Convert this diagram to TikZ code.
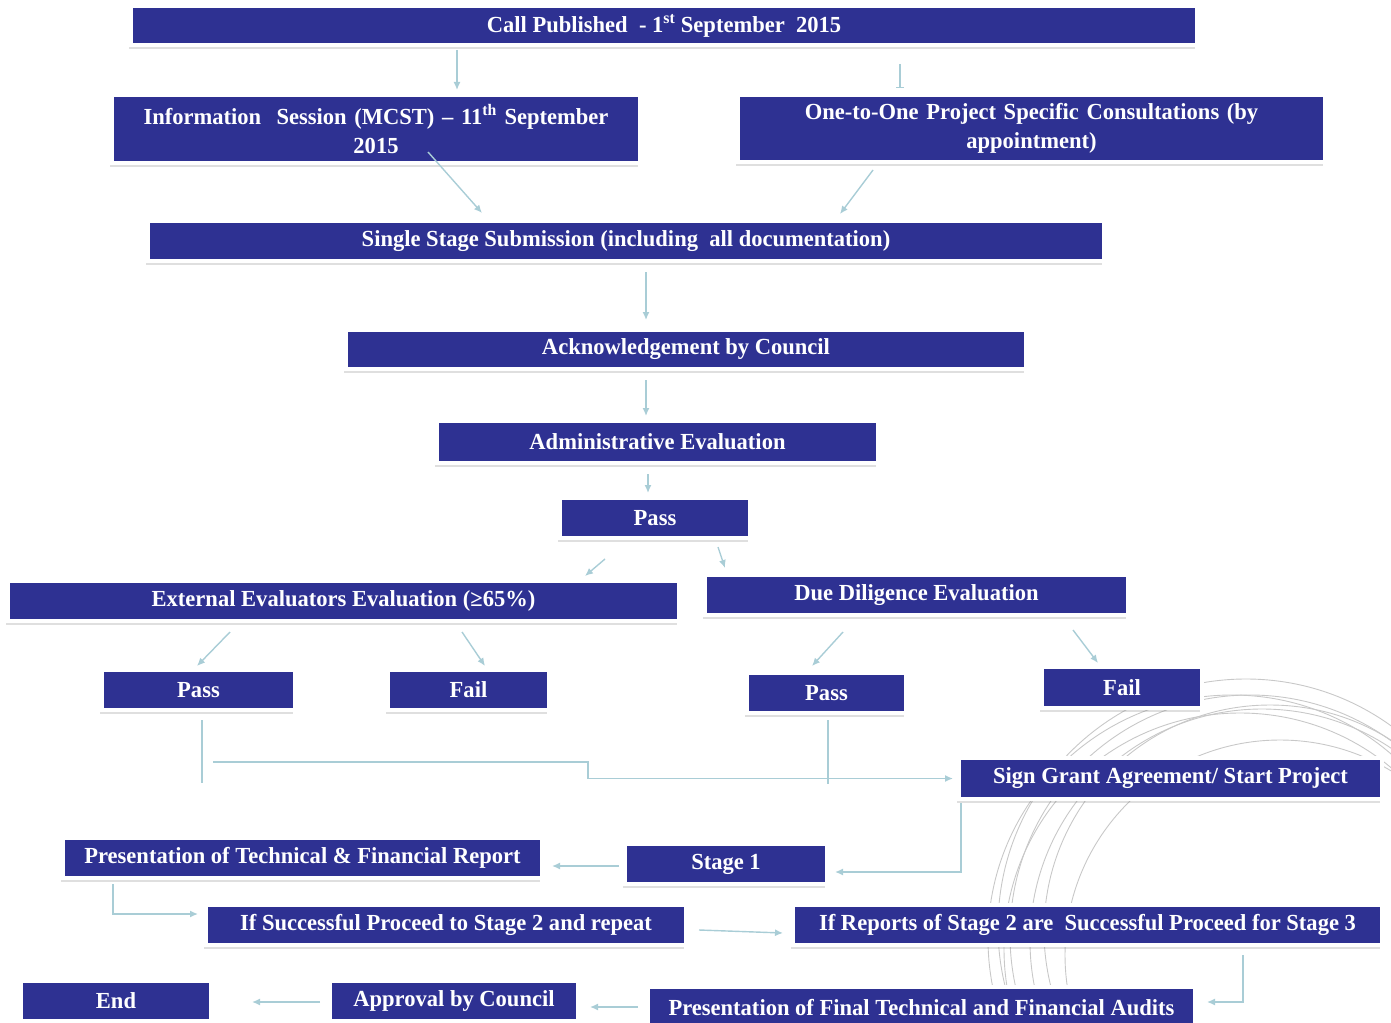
\documentclass[tikz,border=0pt]{standalone}
\usepackage{fontspec}
\setmainfont{Liberation Serif}[FakeStretch=0.98]
\usetikzlibrary{calc, arrows.meta, shadows}

\definecolor{boxblue}{HTML}{2E3192}
\definecolor{arrowc}{HTML}{A9CDD6}
\definecolor{ringc}{HTML}{C8C8C8}

\tikzset{
  flowbox/.style={draw=white, line width=4pt, fill=boxblue, text=white,
    font=\fontsize{23}{29}\selectfont\bfseries, inner sep=0pt, align=center,
    drop shadow={shadow xshift=-2pt, shadow yshift=-4pt, opacity=0.25}},
  arr/.style={draw=arrowc, line width=1.4pt, -{Latex[length=8pt,width=7pt]}},
  plain/.style={draw=arrowc, line width=1.4pt}
}

\begin{document}
\begin{tikzpicture}[x=1pt, y=-1pt]
  \useasboundingbox (0,0) rectangle (1391,1022);

  % Anillos de fondo
  \begin{scope}
    \clip (0,0) rectangle (1391,1022);
    \foreach \dx/\dy/\r in {0/0/240, 12/6/232, -10/14/236, 20/-4/226, -4/-8/248, 30/20/215, -18/4/244}
      \draw[ringc, line width=0.9pt] (1250+\dx,935+\dy) circle (\r);
  \end{scope}

  % Cajas
  \node[flowbox, minimum width=1066, minimum height=39] (call) at (664,25.5)
    {Call Published \ - 1\textsuperscript{st} September \ 2015};
  \node[flowbox, minimum width=528, minimum height=68, text width=500] (info) at (376,129)
    {Information \ Session (MCST) -- 11\textsuperscript{th} September\\2015};
  \node[flowbox, minimum width=587, minimum height=67, text width=560] (one) at (1031.5,128.5)
    {One-to-One Project Specific Consultations (by\\appointment)};
  \node[flowbox, minimum width=956, minimum height=40] (single) at (626,241)
    {Single Stage Submission (including \ all documentation)};
  \node[flowbox, minimum width=680, minimum height=39] (ack) at (686,349.5)
    {Acknowledgement by Council};
  \node[flowbox, minimum width=441, minimum height=42] (admin) at (657.5,442)
    {Administrative Evaluation};
  \node[flowbox, minimum width=190, minimum height=40] (pass) at (655,518) {Pass};
  \node[flowbox, minimum width=671, minimum height=40] (ext) at (343.5,601)
    {External Evaluators Evaluation (≥65\%)};
  \node[flowbox, minimum width=423, minimum height=40] (due) at (916.5,595)
    {Due Diligence Evaluation};
  \node[flowbox, minimum width=193, minimum height=40] (passa) at (198.5,690) {Pass};
  \node[flowbox, minimum width=161, minimum height=40] (faila) at (468.5,690) {Fail};
  \node[flowbox, minimum width=159, minimum height=40] (passb) at (826.5,693) {Pass};
  \node[flowbox, minimum width=160, minimum height=41] (failb) at (1122,687.5) {Fail};
  \node[flowbox, minimum width=423, minimum height=41] (sign) at (1170.5,778.5)
    {Sign Grant Agreement/ Start Project};
  \node[flowbox, minimum width=479, minimum height=40] (pres) at (302.5,858)
    {Presentation of Technical \& Financial Report};
  \node[flowbox, minimum width=202, minimum height=40] (stage) at (726,864) {Stage 1};
  \node[flowbox, minimum width=480, minimum height=40] (ifsucc) at (446,925)
    {If Successful Proceed to Stage 2 and repeat};
  \node[flowbox, minimum width=589, minimum height=40] (ifrep) at (1087.5,925)
    {If Reports of Stage 2 are \ Successful Proceed for Stage 3};
  \node[flowbox, minimum width=190, minimum height=40] (endn) at (116,1001) {End};
  \node[flowbox, minimum width=248, minimum height=40] (appr) at (454,1001)
    {Approval by Council};
  \node[flowbox, minimum width=547, minimum height=42] (final) at (921.5,1008)
    {Presentation of Final Technical and Financial Audits};

  % Conectores
  \draw[arr] ($(call.south)+(-207,3)$) -- ($(info.north)+(81,-3)$);
  \draw[plain, -{Bar[width=8pt]}] ($(call.south)+(236,17)$) -- ($(one.north)+(-131.5,-5)$);
  \draw[arr] ($(info.center)+(52,23)$) -- ($(single.north)+(-144,-6)$);
  \draw[arr] ($(one.south)+(-158.5,6)$) -- ($(single.north)+(214,-5)$);
  \draw[arr] ($(single.south)+(20,9)$) -- ($(ack.north)+(-40,-8)$);
  \draw[arr] ($(ack.south)+(-40,9)$) -- ($(admin.north)+(-11.5,-3)$);
  \draw[arr] ($(admin.south)+(-9.5,9)$) -- ($(pass.north)+(-7,-3)$);
  \draw[arr] ($(pass.south)+(-50,19)$) -- ($(ext.north)+(241.5,-3)$);
  \draw[arr] ($(pass.south)+(63,7)$) -- ($(due.north)+(-191.5,-5)$);
  \draw[arr] ($(ext.south)+(-113.5,9)$) -- ($(passa.north)+(-1.5,-2)$);
  \draw[arr] ($(ext.south)+(118.5,9)$) -- ($(faila.north)+(16.5,-2)$);
  \draw[arr] ($(due.south)+(-73.5,15)$) -- ($(passb.north)+(-14.5,-5)$);
  \draw[arr] ($(due.south)+(156.5,13)$) -- ($(failb.north)+(-24,-2)$);

  \coordinate (pa-end) at (202,783);
  \coordinate (merge) at (213,762);
  \draw[plain] ($(passa.south)+(3.5,8)$) -- (pa-end);
  \draw[arr] (merge) -- ++(375,0) |- ($(sign.west)+(-4,0)$);
  \draw[plain] ($(passb.south)+(1.5,5)$) -- ($(passb.south)+(1.5,69)$);

  \draw[arr] ($(sign.south)+(-209.5,2)$) |- ($(stage.east)+(6,8)$);
  \draw[arr] ($(stage.west)+(-4,2)$) -- ($(pres.east)+(8,8)$);
  \draw[arr] ($(pres.south)+(-189.5,4)$) |- ($(ifsucc.west)+(-6,-11)$);
  \draw[arr] ($(ifsucc.east)+(11,5)$) -- ($(ifrep.west)+(-8,8)$);
  \draw[arr] ($(ifrep.south)+(155.5,8)$) |- ($(final.east)+(10,-6)$);
  \draw[arr] ($(final.west)+(-8,-1)$) -- ($(appr.east)+(10,6)$);
  \draw[arr] ($(appr.west)+(-8,1)$) -- ($(endn.east)+(39,1)$);
\end{tikzpicture}
\end{document}
